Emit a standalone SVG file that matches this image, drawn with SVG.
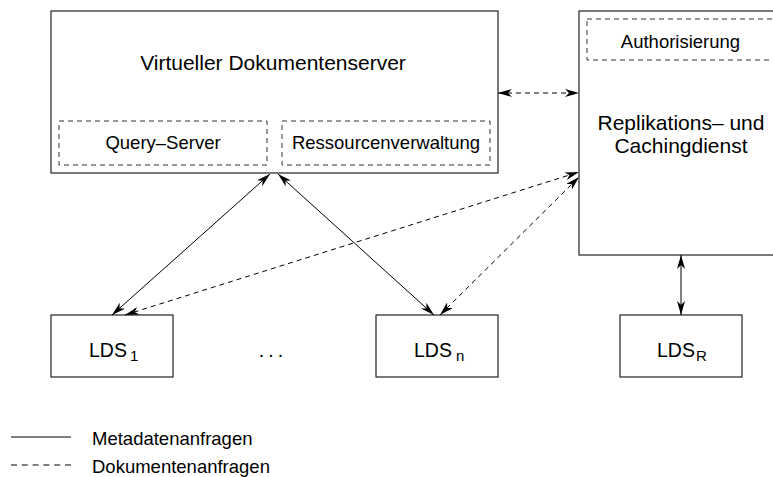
<svg xmlns="http://www.w3.org/2000/svg" width="773" height="477" viewBox="0 0 773 477">
<style>
.box{fill:#fff;stroke:#222;stroke-width:1.2}
.dbox{fill:none;stroke:#333;stroke-width:1;stroke-dasharray:5 4}
.t{font-family:"Liberation Sans",Arial,sans-serif;fill:#000}
.c{text-anchor:middle}
.sol{fill:none;stroke:#000;stroke-width:1}
.das{fill:none;stroke:#000;stroke-width:1;stroke-dasharray:5 4}
.arr{marker-start:url(#ah);marker-end:url(#ah)}
</style>
<defs>
<marker id="ah" viewBox="0 0 14 8" refX="14" refY="4" markerWidth="14" markerHeight="8" markerUnits="userSpaceOnUse" orient="auto-start-reverse">
<path d="M0,0 L14,4 L0,8 L4,4 z" fill="#000"/>
</marker>
</defs>
<rect width="773" height="477" fill="#fff"/>
<g id="vds">
<rect class="box" x="51" y="11" width="447" height="162"/>
<text class="t c" x="273" y="70" font-size="21">Virtueller Dokumentenserver</text>
</g>
<g id="query-server">
<rect class="dbox" x="59" y="121" width="208" height="44"/>
<text class="t c" x="163" y="149" font-size="18.5">Query–Server</text>
</g>
<g id="ressourcenverwaltung">
<rect class="dbox" x="282" y="121" width="208" height="44"/>
<text class="t c" x="386" y="149" font-size="18.5">Ressourcenverwaltung</text>
</g>
<g id="rcd">
<rect class="box" x="579" y="11" width="220" height="244"/>
<text class="t c" x="681" y="130" font-size="21">Replikations– und</text>
<text class="t c" x="681" y="153" font-size="21">Cachingdienst</text>
</g>
<g id="authorisierung">
<rect class="dbox" x="587" y="19" width="210" height="41"/>
<text class="t c" x="680.5" y="48" font-size="18.5">Authorisierung</text>
</g>
<g id="lds1">
<rect class="box" x="51" y="315" width="122" height="62"/>
<text class="t" x="89" y="357" font-size="19.5">LDS<tspan font-size="15" dx="3" dy="4">1</tspan></text>
</g>
<g id="dots">
<text class="t c" x="273" y="357" font-size="19.5" letter-spacing="4">...</text>
</g>
<g id="ldsn">
<rect class="box" x="376" y="315" width="122" height="62"/>
<text class="t" x="414" y="357" font-size="19.5">LDS<tspan font-size="15" dx="4" dy="4">n</tspan></text>
</g>
<g id="ldsr">
<rect class="box" x="620" y="315" width="122" height="62"/>
<text class="t" x="657" y="357" font-size="19.5">LDS<tspan font-size="15" dx="1" dy="4">R</tspan></text>
</g>
<g id="connectors">
<line class="sol arr" x1="270" y1="174" x2="112" y2="315"/>
<line class="sol arr" x1="278" y1="174" x2="434" y2="315"/>
<line class="das arr" x1="125" y1="315" x2="579" y2="172"/>
<line class="das arr" x1="440" y1="315" x2="579" y2="177"/>
<line class="das arr" x1="498" y1="93" x2="579" y2="93"/>
<line class="sol arr" x1="681" y1="255" x2="681" y2="315"/>
</g>
<g id="legend">
<line class="sol" x1="11" y1="437" x2="71" y2="437"/>
<line class="sol" x1="11" y1="465" x2="71" y2="465" stroke-dasharray="6 4.8"/>
<text class="t" x="92" y="445" font-size="18.5">Metadatenanfragen</text>
<text class="t" x="92" y="473" font-size="18.5">Dokumentenanfragen</text>
</g>
</svg>
